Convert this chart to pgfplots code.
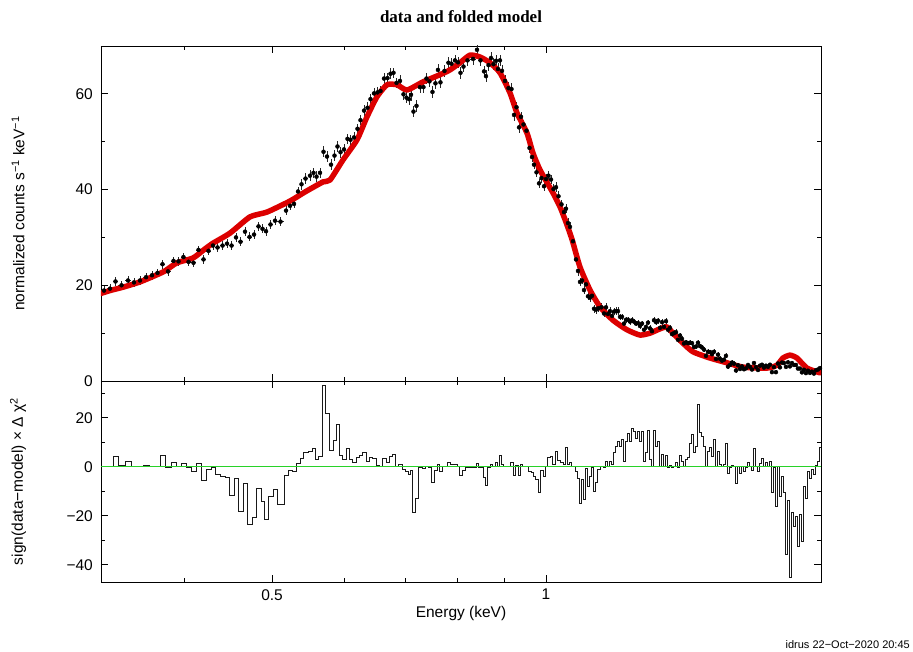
\documentclass[border=0pt]{standalone}
\usepackage{fontspec}
\setmainfont{Liberation Sans}
\newfontfamily\titlefont{Liberation Serif}
\usepackage{pgfplots}
\usepackage{pgfplotstable}
\pgfplotsset{compat=1.18}
\definecolor{modelred}{RGB}{220,0,0}
\definecolor{zerogreen}{RGB}{40,210,40}
\newcommand{\lab}{\fontsize{15.5}{18.6}\selectfont}

\pgfplotstableread{
E dE d s
0.32682 0.00248 18.9 0.9
0.33182 0.00252 19.3 0.9
0.33646 0.00213 20.8 0.9
0.34161 0.00303 20.0 0.9
0.34727 0.00264 21.0 0.9
0.35259 0.00268 20.6 0.9
0.35798 0.00272 21.0 0.9
0.36346 0.00276 21.7 0.9
0.36902 0.00281 22.1 0.9
0.37419 0.00237 22.6 0.9
0.37895 0.00240 24.4 0.9
0.38426 0.00292 22.9 0.9
0.38965 0.00247 25.1 0.9
0.39461 0.00250 25.0 0.9
0.39963 0.00253 25.9 0.9
0.40472 0.00256 24.9 0.9
0.40987 0.00259 24.7 0.9
0.41509 0.00263 27.4 0.9
0.42037 0.00266 25.4 0.95
0.42573 0.00270 27.2 0.95
0.43060 0.00218 28.3 0.95
0.43554 0.00276 27.9 0.95
0.44108 0.00279 28.3 0.95
0.44613 0.00226 28.7 0.95
0.45124 0.00286 28.3 0.95
0.45640 0.00231 30.0 0.95
0.46163 0.00292 29.1 0.95
0.46691 0.00236 31.2 0.95
0.47227 0.00300 30.1 0.95
0.47768 0.00242 30.6 0.95
0.48315 0.00306 32.3 0.95
0.48805 0.00185 31.8 0.95
0.49239 0.00249 31.3 0.95
0.49803 0.00315 32.7 0.95
0.50373 0.00255 33.5 0.95
0.51081 0.00454 33.3 0.95
0.51796 0.00262 35.6 0.95
0.52322 0.00264 36.6 0.95
0.52854 0.00268 37.0 0.95
0.53392 0.00271 39.6 0.95
0.53868 0.00205 41.1 1.1
0.54416 0.00344 42.3 1.1
0.55039 0.00279 42.9 1.1
0.55528 0.00211 43.5 1.1
0.55951 0.00212 42.7 1.1
0.56449 0.00286 43.5 1.1
0.56951 0.00217 47.9 1.1
0.57457 0.00290 46.9 1.1
0.58042 0.00295 45.2 1.1
0.58558 0.00222 47.1 1.1
0.59004 0.00224 49.0 1.1
0.59454 0.00226 47.8 1.1
0.59983 0.00304 48.4 1.1
0.60516 0.00230 50.6 1.1
0.60977 0.00232 50.4 1.1
0.61520 0.00311 50.9 1.1
0.62067 0.00236 52.7 1.1
0.62540 0.00238 54.5 1.1
0.63096 0.00319 56.5 1.1
0.63657 0.00242 57.1 1.1
0.64142 0.00244 58.9 1.1
0.64713 0.00327 60.1 1.1
0.65288 0.00248 60.3 1.1
0.65786 0.00250 60.6 1.1
0.66371 0.00336 63.2 1.1
0.66961 0.00254 63.3 1.1
0.67471 0.00257 64.2 1.1
0.67986 0.00258 64.4 1.1
0.68504 0.00260 62.3 1.1
0.69113 0.00350 62.7 1.2
0.69728 0.00265 59.9 1.2
0.70260 0.00267 59.2 1.2
0.70706 0.00180 58.9 1.2
0.71065 0.00180 59.8 1.2
0.71516 0.00272 56.3 1.2
0.72061 0.00274 57.5 1.2
0.72702 0.00368 61.4 1.2
0.73348 0.00278 61.4 1.2
0.73907 0.00281 63.2 1.2
0.74470 0.00283 62.6 1.2
0.75038 0.00285 60.4 1.2
0.75609 0.00287 62.2 1.2
0.76088 0.00192 65.0 1.2
0.76572 0.00292 62.4 1.2
0.77353 0.00489 64.8 1.2
0.78139 0.00297 66.5 1.2
0.78734 0.00299 66.3 1.2
0.79435 0.00402 67.0 1.2
0.80039 0.00203 66.6 1.2
0.80546 0.00305 64.4 1.2
0.81159 0.00308 65.7 1.2
0.81986 0.00519 67.0 1.2
0.83136 0.00631 67.3 1.2
0.83979 0.00212 69.2 1.2
0.84728 0.00537 67.0 1.2
0.85480 0.00216 64.7 1.2
0.85913 0.00217 63.7 1.2
0.86459 0.00329 66.0 1.2
0.87008 0.00220 67.5 1.2
0.87561 0.00333 66.2 1.2
0.88116 0.00223 66.9 1.2
0.88562 0.00224 65.2 1.2
0.89012 0.00226 67.0 1.2
0.89464 0.00227 64.8 1.2
0.90146 0.00456 62.7 1.2
0.90948 0.00346 61.2 1.2
0.91641 0.00348 61.0 1.2
0.92222 0.00233 55.6 1.2
0.92807 0.00352 57.2 1.2
0.93396 0.00237 53.0 1.2
0.93871 0.00238 55.2 1.0
0.94467 0.00359 53.6 1.0
0.95186 0.00361 52.3 1.0
0.95912 0.00365 48.7 1.0
0.96521 0.00245 46.8 1.0
0.97010 0.00245 45.2 1.0
0.97626 0.00371 43.6 1.0
0.98245 0.00249 41.3 1.0
0.98870 0.00376 42.4 1.0
0.99497 0.00252 40.7 1.0
1.00001 0.00253 42.2 1.0
1.00636 0.00383 42.9 1.0
1.01274 0.00256 42.1 1.0
1.01917 0.00387 40.1 1.0
1.02563 0.00259 40.5 1.0
1.03214 0.00392 38.6 1.0
1.04000 0.00395 36.9 1.0
1.04659 0.00265 35.3 1.0
1.05190 0.00266 36.0 1.0
1.05723 0.00268 33.0 1.0
1.06260 0.00270 32.2 1.0
1.07072 0.00542 29.2 1.0
1.07887 0.00273 25.4 1.0
1.08433 0.00274 23.0 1.0
1.08983 0.00276 20.7 0.8
1.09536 0.00277 21.0 0.8
1.10092 0.00279 19.0 0.8
1.10650 0.00280 20.2 0.8
1.11211 0.00282 17.7 0.8
1.11776 0.00284 17.4 0.8
1.12344 0.00285 17.8 0.8
1.12914 0.00286 15.1 0.8
1.13486 0.00287 14.9 0.8
1.14207 0.00435 15.2 0.8
1.15078 0.00437 15.4 0.8
1.15808 0.00293 14.1 0.8
1.16394 0.00294 15.4 0.8
1.16984 0.00296 14.0 0.8
1.17578 0.00298 14.6 0.8
1.18176 0.00300 13.6 0.8
1.18776 0.00301 14.5 0.8
1.19378 0.00302 14.6 0.8
1.19983 0.00304 14.6 0.8
1.20592 0.00306 13.4 0.6
1.21204 0.00307 13.4 0.6
1.21819 0.00308 12.0 0.6
1.22437 0.00310 12.8 0.6
1.23057 0.00311 12.8 0.6
1.23682 0.00314 12.4 0.6
1.24311 0.00315 12.7 0.6
1.24941 0.00316 12.4 0.6
1.25575 0.00318 12.0 0.6
1.26211 0.00319 12.1 0.6
1.26852 0.00322 11.5 0.6
1.27497 0.00323 12.0 0.6
1.28144 0.00324 10.7 0.6
1.28794 0.00326 11.3 0.6
1.29446 0.00327 12.2 0.6
1.30103 0.00330 11.0 0.6
1.30764 0.00331 10.4 0.6
1.31428 0.00333 12.7 0.6
1.32094 0.00334 12.3 0.6
1.32764 0.00336 12.6 0.6
1.33437 0.00338 11.1 0.6
1.34114 0.00340 12.3 0.6
1.34794 0.00341 11.3 0.6
1.35477 0.00342 12.5 0.6
1.36164 0.00345 10.7 0.6
1.36855 0.00347 11.1 0.6
1.37550 0.00349 9.8 0.6
1.38248 0.00350 10.0 0.6
1.38948 0.00351 10.2 0.6
1.39652 0.00353 8.6 0.6
1.40361 0.00356 9.5 0.5
1.41074 0.00358 8.8 0.5
1.41790 0.00359 7.85 0.5
1.42508 0.00360 8.1 0.5
1.43230 0.00362 7.9 0.5
1.43958 0.00366 8.0 0.5
1.44690 0.00367 7.9 0.5
1.45424 0.00368 7.1 0.5
1.46161 0.00369 7.2 0.5
1.46902 0.00372 8.0 0.5
1.47648 0.00375 7.3 0.5
1.48399 0.00376 7.0 0.5
1.49152 0.00378 6.55 0.5
1.49908 0.00379 5.25 0.5
1.50667 0.00381 6.1 0.5
1.51432 0.00384 6.05 0.5
1.52202 0.00386 5.6 0.5
1.52974 0.00387 6.1 0.5
1.53750 0.00389 4.6 0.5
1.54529 0.00391 5.5 0.5
1.55313 0.00394 4.65 0.5
1.56102 0.00395 4.25 0.5
1.56894 0.00397 4.45 0.5
1.57690 0.00399 5.25 0.5
1.58489 0.00401 3.0 0.5
1.59293 0.00404 3.35 0.5
1.60103 0.00406 3.85 0.5
1.60915 0.00407 3.6 0.5
1.61731 0.00409 2.2 0.5
1.62550 0.00411 3.3 0.5
1.63375 0.00414 2.5 0.4
1.64205 0.00416 3.05 0.4
1.65039 0.00418 2.45 0.4
1.65875 0.00419 2.65 0.4
1.66716 0.00422 3.35 0.4
1.67563 0.00426 2.95 0.4
1.68415 0.00427 2.4 0.4
1.69269 0.00428 3.75 0.4
1.70127 0.00430 2.9 0.4
1.70989 0.00432 2.3 0.4
1.71855 0.00434 3.2 0.4
1.72727 0.00438 3.4 0.4
1.73603 0.00439 2.8 0.4
1.74483 0.00441 3.2 0.4
1.75367 0.00444 2.95 0.4
1.76257 0.00447 3.4 0.4
1.77153 0.00449 1.85 0.4
1.78052 0.00451 2.9 0.4
1.78954 0.00452 1.85 0.4
1.79861 0.00455 3.65 0.4
1.80774 0.00459 2.85 0.4
1.81693 0.00460 3.85 0.4
1.82615 0.00462 3.75 0.4
1.83541 0.00464 2.95 0.4
1.84471 0.00466 3.9 0.4
1.85407 0.00470 3.05 0.4
1.86348 0.00472 3.75 0.4
1.87294 0.00474 3.35 0.4
1.88243 0.00476 3.35 0.4
1.89197 0.00479 2.6 0.4
1.90158 0.00483 2.6 0.4
1.91125 0.00484 1.8 0.4
1.92095 0.00486 2.35 0.4
1.93069 0.00488 1.65 0.4
1.94047 0.00491 2.15 0.4
1.95032 0.00494 1.7 0.4
1.96023 0.00497 1.95 0.4
1.97018 0.00499 1.55 0.4
1.98016 0.00500 2.25 0.4
1.99020 0.00504 2.4 0.4
2.00032 0.00508 2.7 0.4
}\datatab

\pgfplotstableread{
E m
0.32434 18.3
0.33180 18.9
0.34289 19.6
0.35797 20.7
0.37371 22.2
0.38134 23.0
0.39310 24.7
0.40935 25.7
0.42196 27.6
0.43060 28.8
0.44952 30.9
0.47286 34.3
0.49363 35.3
0.52321 37.6
0.54346 39.5
0.56878 41.6
0.57895 42.0
0.59830 46.2
0.61988 50.4
0.63576 55.2
0.65205 59.4
0.66875 61.9
0.68590 61.9
0.70347 60.8
0.73255 62.5
0.76476 64.0
0.78435 65.0
0.80443 66.5
0.82505 68.1
0.84619 67.7
0.86788 66.5
0.89012 64.4
0.91293 60.2
0.92924 56.0
0.95305 51.8
0.96765 47.6
0.98494 44.1
1.01788 39.3
1.03605 36.4
1.05189 33.2
1.06800 29.6
1.08983 23.8
1.11776 19.0
1.14641 15.5
1.18475 12.7
1.22746 10.7
1.26853 9.6
1.30104 10.0
1.33436 10.9
1.35819 11.3
1.37898 10.0
1.41431 7.9
1.45056 6.1
1.51433 4.8
1.58088 3.8
1.64621 2.9
1.74923 2.7
1.79406 3.3
1.82153 4.8
1.85407 5.4
1.88718 4.8
1.93556 2.7
2.00033 1.7
}\modeltab

\pgfplotstableread{
E r
0.32434 0.3
0.32930 0.3
0.33433 4.4
0.33858 0.5
0.34463 2.3
0.34991 0.2
0.35526 0.2
0.36070 0.5
0.36621 0.2
0.37182 0.2
0.37655 4.6
0.38134 -0.4
0.38718 1.6
0.39211 0.1
0.39710 1.2
0.40216 -0.4
0.40728 -2.0
0.41246 1.2
0.41771 -5.6
0.42303 -1.1
0.42842 -0.4
0.43278 -3.1
0.43829 -3.8
0.44387 -4.5
0.44838 -11.7
0.45409 -4.8
0.45871 -18.2
0.46455 -6.9
0.46927 -23.4
0.47526 -20.8
0.48009 -9.0
0.48620 -14.1
0.48990 -21.5
0.49488 -12.0
0.50118 -9.3
0.50627 -15.4
0.51534 -3.4
0.52058 -1.4
0.52586 -1.8
0.53121 1.4
0.53663 3.4
0.54072 6.0
0.54760 6.4
0.55317 7.3
0.55739 3.0
0.56163 4.1
0.56734 33.2
0.57167 21.8
0.57747 6.8
0.58336 10.9
0.58780 17.3
0.59228 4.6
0.59679 3.0
0.60286 7.3
0.60745 3.0
0.61209 1.6
0.61831 3.7
0.62302 4.6
0.62777 6.0
0.63415 2.3
0.63898 3.9
0.64386 3.3
0.65040 0.5
0.65536 0.1
0.66035 3.3
0.66707 1.6
0.67214 4.4
0.67728 5.0
0.68244 0.1
0.68763 0.8
0.69463 -1.1
0.69993 -1.8
0.70526 -3.1
0.70885 -1.4
0.71244 -18.8
0.71787 -12.7
0.72334 -0.4
0.73070 -0.8
0.73626 0.1
0.74187 -0.2
0.74753 -6.3
0.75322 -1.4
0.75896 1.0
0.76280 -1.8
0.76864 0.1
0.77842 1.9
0.78435 0.8
0.79033 1.1
0.79836 0.1
0.80241 -3.5
0.80851 -1.4
0.81467 -0.3
0.82505 -0.3
0.83767 1.4
0.84191 -0.3
0.85264 -4.5
0.85696 -7.6
0.86130 -0.3
0.86788 1.0
0.87228 0.1
0.87893 1.9
0.88338 0.1
0.88786 4.6
0.89237 1.0
0.89690 0.1
0.90602 0.1
0.91293 1.9
0.91989 -3.5
0.92455 0.5
0.93159 -3.5
0.93633 0.8
0.94108 0.1
0.94825 0.1
0.95547 -1.8
0.96276 -2.2
0.96765 -3.8
0.97255 -5.2
0.97996 -10.6
0.98494 -1.4
0.99245 -3.8
0.99748 0.1
1.00253 3.7
1.01018 4.4
1.01530 1.0
1.02304 6.4
1.02822 2.7
1.03605 1.6
1.04394 1.0
1.04924 7.8
1.05455 1.0
1.05990 1.9
1.06530 0.1
1.07614 -1.8
1.08159 -4.9
1.08707 -15.0
1.09259 -5.2
1.09813 -13.3
1.10370 -0.8
1.10929 -7.9
1.11492 -3.8
1.12059 -0.4
1.12628 -9.9
1.13199 -6.5
1.13772 -1.1
1.14641 0.1
1.15515 -0.4
1.16100 2.2
1.16688 0.1
1.17280 2.3
1.17876 0.8
1.18475 6.0
1.19076 8.4
1.19679 10.5
1.20286 8.4
1.20897 11.2
1.21511 2.3
1.22127 10.5
1.22746 13.6
1.23368 10.5
1.23996 15.5
1.24625 14.6
1.25257 11.4
1.25892 14.6
1.26530 10.5
1.27174 14.6
1.27820 2.3
1.28468 5.7
1.29119 15.0
1.29773 3.0
1.30433 0.1
1.31095 15.0
1.31760 8.4
1.32428 10.5
1.33099 0.1
1.33774 5.0
1.34453 0.1
1.35135 4.6
1.35819 -0.4
1.36508 0.5
1.37201 -0.4
1.37898 0.1
1.38597 1.6
1.39299 -0.4
1.40005 4.6
1.40716 2.3
1.41431 0.1
1.42148 3.0
1.42868 3.7
1.43592 9.5
1.44323 13.2
1.45056 6.0
1.45792 8.4
1.46530 25.4
1.47273 14.1
1.48023 12.5
1.48774 8.4
1.49529 0.1
1.50286 6.4
1.51048 7.8
1.51816 4.4
1.52587 11.2
1.53361 0.1
1.54138 6.4
1.54919 1.0
1.55707 0.1
1.56497 1.0
1.57291 9.5
1.58088 -2.7
1.58889 -0.4
1.59697 0.5
1.60508 0.1
1.61322 -6.8
1.62139 0.1
1.62961 -2.7
1.63789 0.1
1.64621 -1.8
1.65456 -0.4
1.66294 1.9
1.67137 0.1
1.67988 -1.4
1.68841 7.3
1.69697 0.1
1.70557 -1.8
1.71421 1.4
1.72289 3.3
1.73164 0.1
1.74042 1.9
1.74923 0.3
1.75810 2.3
1.76704 -10.6
1.77601 -0.4
1.78502 -16.0
1.79406 0.1
1.80315 -12.0
1.81233 -3.8
1.82153 -10.6
1.83077 -35.8
1.84005 -13.9
1.84937 -45.3
1.85876 -18.5
1.86820 -24.2
1.87767 -20.1
1.88718 -32.4
1.89675 -19.5
1.90641 -30.3
1.91609 -7.9
1.92581 -12.7
1.93556 -1.8
1.94538 -4.9
1.95526 -1.1
1.96519 -3.1
1.97516 0.5
1.98516 2.3
1.99523 7.8
2.00540 7.8
}\restab

\begin{document}
\begin{tikzpicture}
\path[use as bounding box] (0pt,0pt) rectangle (913pt,-652pt);
\begin{axis}[at={(101pt,-46pt)}, anchor=north west,
  scale only axis, width=720pt, height=335pt,
  xmode=log, xmin=0.32434, xmax=2.0054,
  xtick={0.5,1}, minor xtick={0.4,0.6,0.7,0.8,0.9}, xticklabels={},
  ymin=0, ymax=70, ytick={0,20,40,60}, yticklabels={0,20,40,60},
  minor ytick={10,30,50,70},
  major tick length=7pt, minor tick length=4pt,
  every tick/.style={black, line width=0.8pt},
  axis line style={line width=0.8pt},
  tick label style={font=\lab},
  label style={font=\lab},
  yticklabel style={inner sep=0pt, anchor=east, xshift=-8pt},
  ylabel style={at={(axis description cs:-0.1153,0.5)}, anchor=center},
  ylabel={normalized counts s\textsuperscript{−1} keV\textsuperscript{−1}}]
\addplot[only marks, mark=none,
  error bars/.cd, x dir=both, x explicit, y dir=both, y explicit,
  error bar style={line width=0.6pt, black!85}, error mark=none]
  table[x=E, y=d, x error=dE, y error=s]{\datatab};
\addplot[modelred, line width=5.5pt, line join=round, line cap=round, smooth, tension=0.35]
  table[x=E, y=m]{\modeltab};
\end{axis}
\begin{axis}[at={(101pt,-381pt)}, anchor=north west,
  scale only axis, width=720pt, height=201pt,
  xmode=log, xmin=0.32434, xmax=2.0054,
  xtick={0.5,1}, minor xtick={0.4,0.6,0.7,0.8,0.9}, xticklabels={0.5,1},
  ymin=-47, ymax=35, ytick={-40,-20,0,20}, yticklabels={−40,−20,0,20},
  minor ytick={-30,-10,10,30},
  major tick length=7pt, minor tick length=4pt,
  every tick/.style={black, line width=0.8pt},
  axis line style={line width=0.8pt},
  tick label style={font=\lab},
  label style={font=\lab},
  yticklabel style={inner sep=0pt, anchor=east, xshift=-8pt},
  xticklabel style={inner sep=0pt, anchor=north, yshift=-7pt},
  xlabel={Energy (keV)},
  xlabel style={at={(axis description cs:0.5,0)}, anchor=center, yshift=-31pt},
  ylabel style={at={(axis description cs:-0.1153,0.5)}, anchor=center},
  ylabel={sign(data−model) × Δ χ\textsuperscript{2}}]
\addplot[const plot, black!90, line width=0.8pt] table[x=E, y=r]{\restab};
\addplot[zerogreen, line width=0.8pt] coordinates {(0.32434,0) (2.0054,0)};
\end{axis}
\node[anchor=center] at (461pt,-17pt) {\titlefont\bfseries\fontsize{17}{20}\selectfont data and folded model};
\node[anchor=base east, inner sep=0pt] at (910pt,-648pt) {\fontsize{11}{13}\selectfont idrus 22−Oct−2020 20:45};
\end{tikzpicture}
\end{document}
